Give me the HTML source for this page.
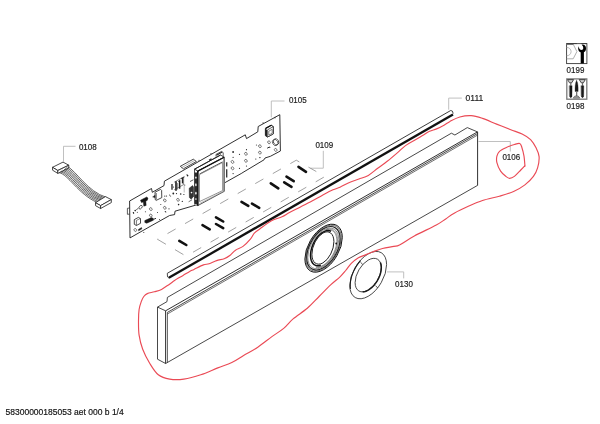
<!DOCTYPE html>
<html><head><meta charset="utf-8"><title>Exploded view</title>
<style>
html,body{margin:0;padding:0;background:#fff;}
body{width:600px;height:424px;overflow:hidden;}
svg{display:block;font-family:"Liberation Sans",sans-serif;will-change:transform;}
</style></head>
<body>
<svg width="600" height="424" viewBox="0 0 600 424">
<rect width="600" height="424" fill="#fff"/>
<polyline points="63.5,161.7 63.5,146.3 75.5,146.3" fill="none" stroke="#b9b9b9" stroke-width="0.9" stroke-linejoin="round"/>
<polyline points="271.3,117.4 271.3,101 284.5,101" fill="none" stroke="#b9b9b9" stroke-width="0.9" stroke-linejoin="round"/>
<polyline points="310.5,168.2 323.3,168.2 323.3,150.8" fill="none" stroke="#b9b9b9" stroke-width="0.9" stroke-linejoin="round"/>
<polyline points="448.7,109.7 448.7,98.1 461.8,98.1" fill="none" stroke="#b9b9b9" stroke-width="0.9" stroke-linejoin="round"/>
<polyline points="478.5,141.5 510.3,141.5 510.3,151.5" fill="none" stroke="#b9b9b9" stroke-width="0.9" stroke-linejoin="round"/>
<polyline points="387,271.9 403.7,271.9 403.7,278.4" fill="none" stroke="#b9b9b9" stroke-width="0.9" stroke-linejoin="round"/>
<g opacity="0.995">
<text x="78.9" y="149.6" font-size="8.6" fill="#222" stroke="#222" stroke-width="0.18" textLength="17.79" lengthAdjust="spacingAndGlyphs">0108</text>
<text x="288.9" y="103.4" font-size="8.6" fill="#222" stroke="#222" stroke-width="0.18" textLength="17.79" lengthAdjust="spacingAndGlyphs">0105</text>
<text x="315.4" y="148" font-size="8.6" fill="#222" stroke="#222" stroke-width="0.18" textLength="17.79" lengthAdjust="spacingAndGlyphs">0109</text>
<text x="465.6" y="101.2" font-size="8.6" fill="#222" stroke="#222" stroke-width="0.18" textLength="17.79" lengthAdjust="spacingAndGlyphs">0111</text>
<text x="502.4" y="160" font-size="8.6" fill="#222" stroke="#222" stroke-width="0.18" textLength="17.79" lengthAdjust="spacingAndGlyphs">0106</text>
<text x="395.1" y="287.4" font-size="8.6" fill="#222" stroke="#222" stroke-width="0.18" textLength="17.79" lengthAdjust="spacingAndGlyphs">0130</text>
<text x="566.6" y="72.5" font-size="8.6" fill="#222" stroke="#222" stroke-width="0.18" textLength="17.79" lengthAdjust="spacingAndGlyphs">0199</text>
<text x="566.6" y="108.5" font-size="8.6" fill="#222" stroke="#222" stroke-width="0.18" textLength="17.79" lengthAdjust="spacingAndGlyphs">0198</text>
<text x="5.5" y="414.8" font-size="9.2" fill="#111" stroke="#111" stroke-width="0.18" textLength="118.2" lengthAdjust="spacingAndGlyphs">58300000185053 aet 000 b 1/4</text>
</g>
<rect x="566.6" y="43.6" width="20.3" height="20" fill="#fff" stroke="#3a3a3a" stroke-width="0.9"/>
<path d="M567,44.2 L573.2,44.2 L576.9,51.6 L573.2,58.8 L567,58.8" fill="none" stroke="#9a9a9a" stroke-width="0.8" stroke-linejoin="round" stroke-linecap="round"/>
<path d="M567,47.4 A4.1,4.2 0 0 1 567,55.8" fill="none" stroke="#aaa" stroke-width="0.8" stroke-linejoin="round" stroke-linecap="round"/>
<line x1="567" y1="44" x2="573.4" y2="44" stroke="#555" stroke-width="1.3"/>
<rect x="580.7" y="51.5" width="3.2" height="11.9" fill="#000"/>
<circle cx="582.1" cy="48.4" r="3.9" fill="#000"/>
<g transform="rotate(-118 581.4 48)"><rect x="581.4" y="46.1" width="6.5" height="3.8" fill="#fff"/></g>
<circle cx="581.4" cy="48" r="1.9" fill="#fff"/>
<line x1="566.6" y1="43.6" x2="586.9" y2="43.6" stroke="#3a3a3a" stroke-width="0.9"/>
<rect x="566.8" y="78.9" width="20" height="20.3" fill="#fff" stroke="#7a7a7a" stroke-width="1.3"/>
<path d="M568,79.6 L573.6,79.6 L571.7,82.8 L569.9,82.8 Z" fill="#ccc" stroke="#222" stroke-width="0.8" stroke-linejoin="round" stroke-linecap="round"/>
<rect x="570.2" y="82.8" width="1.2" height="3" fill="#666"/>
<path d="M569.5,85.7 L572.1,85.7 L572,96.2 L570.8,98 L569.6,96.2 Z" fill="#1a1a1a" stroke="#111" stroke-width="0.3" stroke-linejoin="round" stroke-linecap="round"/>
<path d="M579.7,79.6 L585.3,79.6 L583.4,82.8 L581.6,82.8 Z" fill="#ccc" stroke="#222" stroke-width="0.8" stroke-linejoin="round" stroke-linecap="round"/>
<rect x="581.9" y="82.8" width="1.2" height="3" fill="#666"/>
<path d="M581.2,85.7 L583.8,85.7 L583.7,96.2 L582.5,98 L581.3,96.2 Z" fill="#1a1a1a" stroke="#111" stroke-width="0.3" stroke-linejoin="round" stroke-linecap="round"/>
<path d="M576.6,80.4 C575.2,82.6 574.9,87 575.1,91.5 L578.1,91.5 C578.3,87 578,82.6 576.6,80.4 Z" fill="#1a1a1a" stroke="#111" stroke-width="0.3" stroke-linejoin="round" stroke-linecap="round"/>
<rect x="576" y="91.5" width="1.3" height="4.5" fill="#777"/>
<path d="M573.6,98.1 L579.8,98.1 L578.2,96 L575.2,96 Z" fill="#aaa" stroke="#444" stroke-width="0.6" stroke-linejoin="round" stroke-linecap="round"/>
<polygon points="52.5,167.3 63,162.1 68.8,165.2 57.8,170.5" fill="#fff" stroke="#1a1a1a" stroke-width="0.8" stroke-linejoin="round"/>
<polygon points="52.5,167.3 52.6,170.2 57.8,173.4 57.8,170.5" fill="#fff" stroke="#1a1a1a" stroke-width="0.8" stroke-linejoin="round"/>
<polygon points="57.8,170.5 68.8,165.2 68.8,168 57.8,173.4" fill="#fff" stroke="#1a1a1a" stroke-width="0.8" stroke-linejoin="round"/>
<path d="M59.5,172.8 C68,174 78,194 96.6,202.2" fill="none" stroke="#333" stroke-width="0.75" stroke-linejoin="round" stroke-linecap="round"/>
<path d="M60.71,171.94 C69.14,173.57 79.43,193.71 97.94,201.49" fill="none" stroke="#333" stroke-width="0.75" stroke-linejoin="round" stroke-linecap="round"/>
<path d="M61.93,171.09 C70.29,173.14 80.86,193.43 99.29,200.77" fill="none" stroke="#333" stroke-width="0.75" stroke-linejoin="round" stroke-linecap="round"/>
<path d="M63.14,170.23 C71.43,172.71 82.29,193.14 100.63,200.06" fill="none" stroke="#333" stroke-width="0.75" stroke-linejoin="round" stroke-linecap="round"/>
<path d="M64.36,169.37 C72.57,172.29 83.71,192.86 101.97,199.34" fill="none" stroke="#333" stroke-width="0.75" stroke-linejoin="round" stroke-linecap="round"/>
<path d="M65.57,168.51 C73.71,171.86 85.14,192.57 103.31,198.63" fill="none" stroke="#333" stroke-width="0.75" stroke-linejoin="round" stroke-linecap="round"/>
<path d="M66.79,167.66 C74.86,171.43 86.57,192.29 104.66,197.91" fill="none" stroke="#333" stroke-width="0.75" stroke-linejoin="round" stroke-linecap="round"/>
<path d="M68,166.8 C76,171 88,192 106,197.2" fill="none" stroke="#333" stroke-width="0.75" stroke-linejoin="round" stroke-linecap="round"/>
<polygon points="95.5,202.7 105.4,196.6 111.3,199.6 100.6,205.6" fill="#fff" stroke="#1a1a1a" stroke-width="0.8" stroke-linejoin="round"/>
<polygon points="95.5,202.7 95.6,205.7 100.6,208.5 100.6,205.6" fill="#fff" stroke="#1a1a1a" stroke-width="0.8" stroke-linejoin="round"/>
<polygon points="100.6,205.6 111.3,199.6 111.3,202.6 100.6,208.5" fill="#fff" stroke="#1a1a1a" stroke-width="0.8" stroke-linejoin="round"/>
<polygon points="129.6,201 151.5,188.5 152.3,192.3 164,185.6 164.4,181.2 245.3,134.8 246.5,138.6 257.8,131.8 258.2,126.5 279.8,114.7 280.4,151 270.4,156.3 265,158 264,159.8 243,172.4 241.8,173.2 224.3,183 197.8,204.5 175,211.2 174.6,214.6 169.6,215.5 150,226.5 130,237.9" fill="#fff" stroke="#1a1a1a" stroke-width="0.9" stroke-linejoin="round"/>
<polyline points="129.6,208 127.4,208.3 127.4,214.3 129.6,214.1" fill="none" stroke="#1a1a1a" stroke-width="0.7" stroke-linejoin="round"/>
<polygon points="180.3,166.3 193.3,159.2 196.4,161.5 183.4,168.8" fill="#fff" stroke="#1a1a1a" stroke-width="0.8" stroke-linejoin="round"/>
<line x1="181" y1="168" x2="194" y2="160.8" stroke="#666" stroke-width="0.5"/>
<polygon points="140.5,200.2 146.8,197 148,198.2 147.2,200.4 141.5,202.6" fill="#111" stroke="#1a1a1a" stroke-width="0.5" stroke-linejoin="round"/>
<polygon points="143.2,201.6 145.8,200.6 146.2,205.4 143.8,206.2" fill="#1a1a1a" stroke="#1a1a1a" stroke-width="0.4" stroke-linejoin="round"/>
<ellipse cx="140.6" cy="207.2" rx="1.3" ry="2.1" transform="rotate(40 140.6 207.2)" fill="#fff" stroke="#222" stroke-width="0.7"/>
<line x1="138.3" y1="208.3" x2="136.2" y2="209.8" stroke="#1a1a1a" stroke-width="0.7"/>
<circle cx="135.2" cy="210.6" r="0.8" fill="#222"/>
<circle cx="133.4" cy="212.6" r="0.7" fill="#222"/>
<polygon points="155,192.2 160.6,189.4 161.6,190.4 161.8,197.6 156.2,200.4 155.2,199.6" fill="#fff" stroke="#1a1a1a" stroke-width="0.8" stroke-linejoin="round"/>
<line x1="156.3" y1="193" x2="156.3" y2="199.6" stroke="#1a1a1a" stroke-width="0.6"/>
<polygon points="152.6,196.9 155,195.3 155,197.6" fill="#222" stroke="#1a1a1a" stroke-width="0.4" stroke-linejoin="round"/>
<polygon points="144.8,220.6 151.5,217.6 153.4,218.6 153.4,220.2 146.7,223.2 144.8,222.4" fill="#1a1a1a" stroke="#1a1a1a" stroke-width="0.5" stroke-linejoin="round"/>
<line x1="153.5" y1="219.4" x2="156" y2="218.3" stroke="#333" stroke-width="1"/>
<polygon points="134.3,219.6 138.4,217.4 140.5,218.6 140.5,223.3 136.4,225.5 134.3,224.3" fill="#fff" stroke="#1a1a1a" stroke-width="0.8" stroke-linejoin="round"/>
<line x1="136.4" y1="220.4" x2="136.4" y2="225.3" stroke="#1a1a1a" stroke-width="0.6"/>
<line x1="136.4" y1="220.4" x2="140.4" y2="218.5" stroke="#1a1a1a" stroke-width="0.5"/>
<polygon points="138.3,229.6 141.5,227.6 141.9,228.8 138.7,230.8" fill="#222" stroke="#1a1a1a" stroke-width="0.5" stroke-linejoin="round"/>
<ellipse cx="150.8" cy="209.1" rx="1.25" ry="1.5" transform="rotate(-35 150.8 209.1)" fill="none" stroke="#333" stroke-width="0.6"/>
<ellipse cx="150.8" cy="215.5" rx="1.25" ry="1.5" transform="rotate(-35 150.8 215.5)" fill="none" stroke="#333" stroke-width="0.6"/>
<ellipse cx="135.3" cy="230" rx="1.25" ry="1.5" transform="rotate(-35 135.3 230)" fill="none" stroke="#333" stroke-width="0.6"/>
<ellipse cx="232.5" cy="161.9" rx="1.25" ry="1.5" transform="rotate(-35 232.5 161.9)" fill="none" stroke="#333" stroke-width="0.6"/>
<ellipse cx="232.5" cy="168.3" rx="1.25" ry="1.5" transform="rotate(-35 232.5 168.3)" fill="none" stroke="#333" stroke-width="0.6"/>
<ellipse cx="245.9" cy="153.8" rx="1.25" ry="1.5" transform="rotate(-35 245.9 153.8)" fill="none" stroke="#333" stroke-width="0.6"/>
<ellipse cx="245.9" cy="160.8" rx="1.25" ry="1.5" transform="rotate(-35 245.9 160.8)" fill="none" stroke="#333" stroke-width="0.6"/>
<ellipse cx="259.9" cy="146.2" rx="1.25" ry="1.5" transform="rotate(-35 259.9 146.2)" fill="none" stroke="#333" stroke-width="0.6"/>
<ellipse cx="259.9" cy="152.6" rx="1.25" ry="1.5" transform="rotate(-35 259.9 152.6)" fill="none" stroke="#333" stroke-width="0.6"/>
<ellipse cx="275.7" cy="149.9" rx="1.25" ry="1.5" transform="rotate(-35 275.7 149.9)" fill="none" stroke="#333" stroke-width="0.6"/>
<ellipse cx="269" cy="142.3" rx="1.25" ry="1.5" transform="rotate(-35 269 142.3)" fill="none" stroke="#333" stroke-width="0.6"/>
<circle cx="233.1" cy="152" r="0.9" fill="#222"/>
<circle cx="239.5" cy="154.3" r="0.6" fill="#222"/>
<circle cx="233.1" cy="157.3" r="0.6" fill="#222"/>
<circle cx="246.5" cy="149.7" r="0.6" fill="#222"/>
<circle cx="246.5" cy="166" r="0.6" fill="#222"/>
<circle cx="239.5" cy="168.3" r="0.6" fill="#222"/>
<circle cx="233.1" cy="173.6" r="0.6" fill="#222"/>
<circle cx="255.8" cy="159" r="0.6" fill="#222"/>
<circle cx="259.9" cy="157.6" r="0.7" fill="#222"/>
<circle cx="256.4" cy="145" r="0.5" fill="#222"/>
<circle cx="269.8" cy="147.3" r="0.6" fill="#222"/>
<circle cx="133.6" cy="213.2" r="0.6" fill="#222"/>
<circle cx="145.4" cy="211.7" r="0.5" fill="#222"/>
<circle cx="157.5" cy="212.5" r="0.5" fill="#222"/>
<circle cx="160.8" cy="204.5" r="0.5" fill="#222"/>
<circle cx="165.8" cy="212" r="0.5" fill="#222"/>
<circle cx="159.5" cy="219.4" r="0.5" fill="#222"/>
<circle cx="137.3" cy="212.2" r="0.5" fill="#222"/>
<circle cx="166.5" cy="196" r="0.6" fill="#222"/>
<circle cx="187" cy="174.8" r="0.6" fill="#222"/>
<circle cx="184.7" cy="185" r="0.6" fill="#222"/>
<circle cx="176.5" cy="193.6" r="0.6" fill="#222"/>
<circle cx="170.6" cy="196" r="0.5" fill="#222"/>
<circle cx="178.8" cy="181.5" r="0.5" fill="#222"/>
<circle cx="143.8" cy="232.6" r="0.5" fill="#222"/>
<circle cx="173.5" cy="187" r="0.6" fill="#222"/>
<circle cx="188" cy="160.8" r="0.4" fill="#222"/>
<circle cx="199" cy="160.3" r="0.5" fill="#222"/>
<circle cx="211" cy="153.5" r="0.5" fill="#222"/>
<line x1="172" y1="184" x2="172" y2="189.8" stroke="#222" stroke-width="1.3"/>
<line x1="176" y1="181.3" x2="176" y2="190.8" stroke="#1a1a1a" stroke-width="1.6"/>
<line x1="179.6" y1="180.2" x2="179.6" y2="188.7" stroke="#1a1a1a" stroke-width="1.5"/>
<line x1="182.5" y1="178" x2="182.5" y2="183.4" stroke="#222" stroke-width="1.3"/>
<line x1="181" y1="178.6" x2="184.5" y2="176.8" stroke="#222" stroke-width="0.9"/>
<polyline points="174.2,182.2 183.6,177 183.6,184.6 174.2,189.8" fill="none" stroke="#333" stroke-width="0.6" stroke-linejoin="round"/>
<line x1="177.6" y1="183" x2="177.6" y2="189.6" stroke="#444" stroke-width="0.6"/>
<line x1="184.2" y1="185.5" x2="184.2" y2="192.5" stroke="#777" stroke-width="0.5"/>
<circle cx="173.3" cy="193.5" r="0.9" fill="#222"/>
<circle cx="180.7" cy="194" r="0.8" fill="#222"/>
<circle cx="183.9" cy="194.5" r="0.6" fill="#222"/>
<circle cx="164.8" cy="196.1" r="0.6" fill="#222"/>
<circle cx="169.5" cy="195" r="0.5" fill="#222"/>
<circle cx="178.6" cy="204.6" r="0.8" fill="#222"/>
<circle cx="182.3" cy="201.4" r="0.6" fill="#222"/>
<circle cx="169" cy="208.8" r="0.6" fill="#222"/>
<circle cx="165.3" cy="211.5" r="0.6" fill="#222"/>
<circle cx="187.6" cy="175.4" r="0.6" fill="#222"/>
<ellipse cx="164.8" cy="200.4" rx="1.2" ry="1.5" transform="rotate(-35 164.8 200.4)" fill="none" stroke="#333" stroke-width="0.6"/>
<ellipse cx="164.8" cy="207.8" rx="1.2" ry="1.5" transform="rotate(-35 164.8 207.8)" fill="none" stroke="#333" stroke-width="0.6"/>
<ellipse cx="178" cy="199.8" rx="1.2" ry="1.5" transform="rotate(-35 178 199.8)" fill="none" stroke="#333" stroke-width="0.6"/>
<polygon points="265.4,128.6 271.2,125.2 273.3,126.6 273.3,133.8 267.6,137 265.4,135.6" fill="#fff" stroke="#111" stroke-width="1" stroke-linejoin="round"/>
<polygon points="267.6,129.8 273.3,126.6 273.3,133.8 267.6,137" fill="#fff" stroke="#222" stroke-width="0.7" stroke-linejoin="round"/>
<line x1="266.4" y1="129.4" x2="266.4" y2="136.2" stroke="#222" stroke-width="1.2"/>
<line x1="265.6" y1="128.4" x2="271.4" y2="125.2" stroke="#111" stroke-width="1.2"/>
<polygon points="268.8,131.2 272.2,129.3 272.2,133.2 268.8,135.1" fill="#fff" stroke="#333" stroke-width="0.6" stroke-linejoin="round"/>
<line x1="263.1" y1="122.2" x2="263.1" y2="123.8" stroke="#333" stroke-width="0.8"/>
<line x1="275" y1="116.8" x2="275" y2="118.4" stroke="#333" stroke-width="0.8"/>
<ellipse cx="276" cy="141.8" rx="2.6" ry="3.2" transform="rotate(-30 276 141.8)" fill="#fff" stroke="#222" stroke-width="0.7"/>
<ellipse cx="275.2" cy="142.6" rx="2.6" ry="3.2" transform="rotate(-30 275.2 142.6)" fill="none" stroke="#222" stroke-width="0.6"/>
<line x1="267.2" y1="148.2" x2="269.5" y2="147" stroke="#222" stroke-width="1"/>
<line x1="226.7" y1="162.3" x2="226.7" y2="166.4" stroke="#333" stroke-width="1.3"/>
<line x1="226.7" y1="169.3" x2="226.7" y2="177.5" stroke="#333" stroke-width="1.3"/>
<polygon points="194.5,169.2 220.6,155 224.2,157.2 197.8,171.1" fill="#fff" stroke="#222" stroke-width="0.8" stroke-linejoin="round"/>
<polygon points="194.5,169.2 197.8,171.1 197.8,205.6 194.6,203.6" fill="#fff" stroke="#222" stroke-width="0.8" stroke-linejoin="round"/>
<polygon points="197.8,171.1 224.2,157.2 224.2,191.4 197.8,205.6" fill="#fff" stroke="#444" stroke-width="0.9" stroke-linejoin="round"/>
<line x1="197.8" y1="171.1" x2="197.8" y2="205.6" stroke="#111" stroke-width="1.5"/>
<line x1="224.2" y1="157.4" x2="224.2" y2="191.3" stroke="#777" stroke-width="1.5"/>
<line x1="197.8" y1="171.1" x2="224.2" y2="157.2" stroke="#111" stroke-width="1.2"/>
<line x1="199.5" y1="174" x2="222.6" y2="161.9" stroke="#333" stroke-width="0.9"/>
<polygon points="199.5,174.6 222.6,162.5 222.6,190.6 199.5,201.6" fill="#fff" stroke="#777" stroke-width="0.8" stroke-linejoin="round"/>
<line x1="199.5" y1="203.6" x2="223.6" y2="191.2" stroke="#888" stroke-width="0.6"/>
<line x1="194.5" y1="169.2" x2="220.6" y2="155" stroke="#222" stroke-width="1"/>
<line x1="209" y1="160.2" x2="211.5" y2="158.8" stroke="#222" stroke-width="1.2"/>
<polyline points="216,156.6 216,154.4 221.6,151.4 223.2,152.6 223.2,156.8" fill="none" stroke="#222" stroke-width="0.7" stroke-linejoin="round"/>
<line x1="216.5" y1="155.2" x2="222.2" y2="152.1" stroke="#222" stroke-width="1.1"/>
<line x1="195.9" y1="172.5" x2="195.9" y2="205" stroke="#2a2a2a" stroke-width="2.6"/>
<ellipse cx="195.9" cy="177.6" rx="0.7" ry="1.2" fill="#fff" stroke="none"/>
<ellipse cx="195.9" cy="184.8" rx="0.7" ry="1.56" fill="#fff" stroke="none"/>
<ellipse cx="195.9" cy="193.2" rx="0.7" ry="1.44" fill="#fff" stroke="none"/>
<ellipse cx="195.9" cy="199" rx="0.7" ry="0.84" fill="#fff" stroke="none"/>
<ellipse cx="195.9" cy="204.6" rx="0.7" ry="0.72" fill="#fff" stroke="none"/>
<polygon points="189.2,188.2 192.6,185.6 193.6,187.2 193.6,196.2 191.2,199.2 189.4,197.6" fill="#333" stroke="#222" stroke-width="0.5" stroke-linejoin="round"/>
<circle cx="191.5" cy="192.6" r="0.8" fill="#fff"/>
<line x1="188.6" y1="201.8" x2="192" y2="199.8" stroke="#333" stroke-width="0.7"/>
<line x1="190" y1="181.5" x2="193.4" y2="179.8" stroke="#333" stroke-width="0.8"/>
<circle cx="187.6" cy="175.8" r="0.7" fill="#222"/>
<line x1="157.5" y1="239.3" x2="296.3" y2="160.2" stroke="#7a7a7a" stroke-width="0.7" stroke-dasharray="9.4 10.8" stroke-dashoffset="-11.5"/>
<line x1="186.1" y1="256.2" x2="325" y2="176.5" stroke="#7a7a7a" stroke-width="0.7" stroke-dasharray="9.4 10.8" stroke-dashoffset="-8"/>
<line x1="157.5" y1="239.3" x2="186.1" y2="256.2" stroke="#7a7a7a" stroke-width="0.7" stroke-dasharray="9.8 10.5"/>
<line x1="296.3" y1="160.2" x2="325" y2="176.5" stroke="#7a7a7a" stroke-width="0.7" stroke-dasharray="3.5 10.5 9 20"/>
<line x1="179.3" y1="240.8" x2="186.3" y2="245" stroke="#111" stroke-width="2.6" stroke-linecap="round"/>
<line x1="202.5" y1="225.2" x2="209.7" y2="229.3" stroke="#111" stroke-width="2.6" stroke-linecap="round"/>
<line x1="216" y1="217.3" x2="223.2" y2="221.5" stroke="#111" stroke-width="2.6" stroke-linecap="round"/>
<line x1="216" y1="224" x2="223.2" y2="228.2" stroke="#111" stroke-width="2.6" stroke-linecap="round"/>
<line x1="241.5" y1="201.8" x2="248.3" y2="205.8" stroke="#111" stroke-width="2.6" stroke-linecap="round"/>
<line x1="252" y1="203.7" x2="259.2" y2="207.8" stroke="#111" stroke-width="2.6" stroke-linecap="round"/>
<line x1="270.8" y1="183.3" x2="278.3" y2="188.3" stroke="#111" stroke-width="2.6" stroke-linecap="round"/>
<line x1="284.2" y1="182.3" x2="291.5" y2="186.8" stroke="#111" stroke-width="2.6" stroke-linecap="round"/>
<line x1="286.5" y1="176.7" x2="293.7" y2="181.2" stroke="#111" stroke-width="2.6" stroke-linecap="round"/>
<line x1="298.5" y1="166.8" x2="306" y2="171.8" stroke="#111" stroke-width="2.6" stroke-linecap="round"/>
<line x1="167.3" y1="273.3" x2="450.7" y2="110.5" stroke="#1a1a1a" stroke-width="0.85"/>
<line x1="168.8" y1="277.8" x2="453" y2="114.5" stroke="#111" stroke-width="2.3"/>
<polyline points="167.3,273.3 167.5,276.8 169,278.2" fill="none" stroke="#1a1a1a" stroke-width="0.8" stroke-linejoin="round"/>
<polyline points="450.7,110.5 452.4,111.1 453.2,113.6" fill="none" stroke="#1a1a1a" stroke-width="0.8" stroke-linejoin="round"/>
<polyline points="157.5,307.1 167,301.6 167.4,297.4 451.4,133.2 454.9,135 467.3,127.6 477.5,131.9" fill="none" stroke="#1a1a1a" stroke-width="0.8" stroke-linejoin="round"/>
<line x1="157.5" y1="307.1" x2="157.5" y2="359.2" stroke="#1a1a1a" stroke-width="0.8"/>
<line x1="157.5" y1="307.1" x2="165.6" y2="310.8" stroke="#1a1a1a" stroke-width="0.8"/>
<line x1="157.5" y1="359.2" x2="165.6" y2="363.5" stroke="#1a1a1a" stroke-width="0.8"/>
<line x1="165.6" y1="310.8" x2="165.6" y2="363.5" stroke="#1a1a1a" stroke-width="0.9"/>
<line x1="167.4" y1="312.4" x2="167.4" y2="362.4" stroke="#1a1a1a" stroke-width="0.7"/>
<line x1="165.6" y1="310.8" x2="477.5" y2="131.9" stroke="#1a1a1a" stroke-width="0.9"/>
<line x1="167.4" y1="312.4" x2="477.5" y2="133.5" stroke="#1a1a1a" stroke-width="0.8"/>
<line x1="167.4" y1="314" x2="477.5" y2="135.1" stroke="#333" stroke-width="0.7"/>
<line x1="165.6" y1="363.5" x2="477.7" y2="185.3" stroke="#1a1a1a" stroke-width="0.8"/>
<line x1="477.6" y1="131.9" x2="477.6" y2="185.3" stroke="#1a1a1a" stroke-width="0.9"/>
<ellipse cx="0" cy="0" rx="1" ry="1" transform="matrix(18.7,-10.72,0,21.5,323.6,248.2)" fill="none" stroke="#111" stroke-width="1" vector-effect="non-scaling-stroke"/>
<ellipse cx="0" cy="0" rx="1" ry="1" transform="matrix(17.8,-10.2,0,20.6,323.5,248.2)" fill="none" stroke="#333" stroke-width="0.7" vector-effect="non-scaling-stroke"/>
<ellipse cx="0" cy="0" rx="1" ry="1" transform="matrix(16.7,-9.57,0,19.5,323.4,248.3)" fill="none" stroke="#222" stroke-width="1.2" vector-effect="non-scaling-stroke"/>
<ellipse cx="0" cy="0" rx="1" ry="1" transform="matrix(15.5,-8.88,0,18.3,323.3,248.4)" fill="none" stroke="#444" stroke-width="0.6" vector-effect="non-scaling-stroke"/>
<polyline points="325.62,229.72 327.66,229.17 329.61,229.03 331.42,229.3 333.05,229.97 334.47,231.03 335.66,232.45 336.58,234.22 337.21,236.28 337.54,238.6 337.58,241.12 337.3,243.8 336.73,246.58 335.86,249.39 334.73,252.19 333.35,254.9 331.76,257.48 329.98,259.86 328.06,262 326.03,263.86 323.94,265.39 321.84,266.56 319.76,267.34 317.75,267.73 315.85,267.71" fill="none" stroke="#555" stroke-width="0.6" stroke-linejoin="round"/>
<polyline points="325.48,230.39 327.41,229.89 329.25,229.77 330.96,230.05 332.5,230.72 333.85,231.76 334.96,233.15 335.83,234.86 336.43,236.86 336.75,239.11 336.78,241.55 336.52,244.13 335.97,246.8 335.16,249.51 334.09,252.2 332.79,254.8 331.28,257.27 329.6,259.55 327.79,261.6 325.87,263.36 323.9,264.81 321.91,265.92 319.94,266.65 318.04,267 316.25,266.96" fill="none" stroke="#555" stroke-width="0.6" stroke-linejoin="round"/>
<polyline points="320.83,265.3 318.98,265.75 317.23,265.79 315.61,265.42 314.16,264.65 312.92,263.5 311.91,261.99 311.16,260.16 310.69,258.05 310.5,255.71 310.61,253.2 311,250.57 311.67,247.89 312.61,245.21 313.78,242.6 315.18,240.13 316.75,237.84 318.47,235.79 320.29,234.03 322.18,232.6 324.09,231.54 325.97,230.86 327.78,230.58 329.48,230.72 331.03,231.26" fill="none" stroke="#111" stroke-width="1.5" stroke-linejoin="round"/>
<ellipse cx="0" cy="0" rx="1" ry="1" transform="matrix(11,-6.3,0,14.9,322.9,248)" fill="none" stroke="#222" stroke-width="1" vector-effect="non-scaling-stroke"/>
<circle cx="336.2" cy="243.5" r="0.9" fill="#111"/>
<ellipse cx="0" cy="0" rx="1" ry="1" transform="matrix(18.4,-10.54,0,21.2,368.2,275.1)" fill="none" stroke="#1a1a1a" stroke-width="0.8" vector-effect="non-scaling-stroke"/>
<ellipse cx="0" cy="0" rx="1" ry="1" transform="matrix(13.1,-7.51,0,15,368.2,275.1)" fill="none" stroke="#1a1a1a" stroke-width="0.8" vector-effect="non-scaling-stroke"/>
<polyline points="350.47,288.87 350.33,287.83 350.24,286.75 350.2,285.64 350.22,284.5 350.29,283.33 350.41,282.13 350.59,280.91 350.81,279.68 351.09,278.43 351.42,277.17 351.8,275.91 352.23,274.64 352.71,273.38 353.23,272.12 353.8,270.87 354.41,269.63 355.06,268.41 355.75,267.21 356.48,266.03 357.24,264.88 358.04,263.76 358.86,262.67 359.71,261.62 360.59,260.61" fill="none" stroke="#1a1a1a" stroke-width="1.1" stroke-linejoin="round"/>
<polyline points="380.35,262.52 380.77,263.69 381.08,264.97 381.25,266.35 381.3,267.81 381.21,269.35 381,270.95 380.66,272.58 380.2,274.25 379.62,275.92 378.92,277.58 378.12,279.22 377.22,280.81 376.23,282.35 375.16,283.82 374.02,285.2 372.82,286.49 371.58,287.65 370.31,288.7 369.01,289.61 367.7,290.37 366.41,290.99 365.12,291.44 363.87,291.74 362.66,291.87" fill="none" stroke="#1a1a1a" stroke-width="1.5" stroke-linejoin="round"/>
<line x1="360.8" y1="262.3" x2="362.5" y2="264.5" stroke="#1a1a1a" stroke-width="0.7"/>
<line x1="375.5" y1="285.6" x2="377.8" y2="288" stroke="#1a1a1a" stroke-width="0.7"/>
<path d="M444,125.2 C446.23,123.95 447.37,122.77 450,121.4 C452.63,120.03 456.28,117.97 459.8,117 C463.32,116.03 467.32,115.37 471.1,115.6 C474.88,115.83 478.25,116.98 482.5,118.4 C486.75,119.82 491.88,122.22 496.6,124.1 C501.32,125.98 506.55,128.05 510.8,129.7 C515.05,131.35 518.8,132.35 522.1,134 C525.4,135.65 528.25,137.25 530.6,139.6 C532.95,141.95 534.78,145.27 536.2,148.1 C537.62,150.93 538.87,153.3 539.1,156.6 C539.33,159.9 538.55,164.6 537.6,167.9 C536.65,171.2 535.52,173.57 533.4,176.4 C531.28,179.23 528.2,182.38 524.9,184.9 C521.6,187.42 517.85,189.62 513.6,191.5 C509.35,193.38 504.58,194.7 499.4,196.2 C494.22,197.7 487.68,198.82 482.5,200.5 C477.32,202.18 473.02,204.18 468.3,206.3 C463.58,208.42 457.97,211.1 454.2,213.2 C450.43,215.3 448.68,216.93 445.7,218.9 C442.72,220.87 441.53,222.15 436.3,225 C431.07,227.85 420.43,232.67 414.3,236 C408.17,239.33 402.92,243.27 399.5,245 C396.08,246.73 396.63,245.82 393.8,246.4 C390.97,246.98 385.8,247.67 382.5,248.5 C379.2,249.33 376.83,250.33 374,251.4 C371.17,252.47 368.1,253.85 365.5,254.9 C362.9,255.95 360.77,256.28 358.4,257.7 C356.03,259.12 353.42,261.27 351.3,263.4 C349.18,265.53 347.58,268.25 345.7,270.5 C343.82,272.75 342.47,274.53 340,276.9 C337.53,279.27 334.38,281.43 330.9,284.7 C327.42,287.97 323.03,292.57 319.1,296.5 C315.17,300.43 311.63,304.57 307.3,308.3 C302.97,312.03 297.03,315.55 293.1,318.9 C289.17,322.25 287.23,325.45 283.7,328.4 C280.17,331.35 276.22,333.47 271.9,336.6 C267.58,339.73 262.52,344.05 257.8,347.2 C253.08,350.35 247.93,352.93 243.6,355.5 C239.27,358.07 236.1,360.53 231.8,362.6 C227.5,364.67 222.97,365.87 217.8,367.9 C212.63,369.93 206.47,372.93 200.8,374.8 C195.13,376.67 188.98,378.38 183.8,379.1 C178.62,379.82 173.95,379.82 169.7,379.1 C165.45,378.38 161.62,377.4 158.3,374.8 C154.98,372.2 152.4,367.75 149.8,363.5 C147.2,359.25 144.48,354.02 142.7,349.3 C140.92,344.58 139.8,339.92 139.1,335.2 C138.4,330.48 138.5,325.28 138.5,321 C138.5,316.72 138.62,312.8 139.1,309.5 C139.58,306.2 140.62,303.37 141.4,301.2 C142.18,299.03 142.82,297.77 143.8,296.5 C144.78,295.23 145.53,294.38 147.3,293.6 C149.07,292.82 152.03,292.5 154.4,291.8 C156.77,291.1 159.03,290.63 161.5,289.4 C163.97,288.17 167.08,285.83 169.2,284.4 C171.32,282.97 172.67,281.85 174.2,280.8 C175.73,279.75 176.87,279.03 178.4,278.1 C179.93,277.17 181.52,276.32 183.4,275.2 C185.28,274.08 187.93,272.37 189.7,271.4 C191.47,270.43 191.72,270.48 194,269.4 C196.28,268.32 200.88,265.83 203.4,264.9 C205.92,263.97 206.9,264.52 209.1,263.8 C211.3,263.08 214.08,261.45 216.6,260.6 C219.12,259.75 222,259.55 224.2,258.7 C226.4,257.85 227.92,256.92 229.8,255.5 C231.68,254.08 233.3,251.72 235.5,250.2 C237.7,248.68 240.48,248.28 243,246.4 C245.52,244.52 248.72,241.1 250.6,238.9 C252.48,236.7 252.73,234.88 254.3,233.2 C255.87,231.52 257.13,230.87 260,228.8 C262.87,226.73 267.83,222.8 271.5,220.8 C275.17,218.8 279,218.18 282,216.8 C285,215.42 286.5,214.1 289.5,212.5 C292.5,210.9 296.25,209.12 300,207.2 C303.75,205.28 308.25,203 312,201 C315.75,199 319,197.07 322.5,195.2 C326,193.33 330.08,191.13 333,189.8 C335.92,188.47 337.27,188.42 340,187.2 C342.73,185.98 346.25,183.87 349.4,182.5 C352.55,181.13 355.75,180.18 358.9,179 C362.05,177.82 365.17,177.18 368.3,175.4 C371.43,173.62 374.55,170.65 377.7,168.3 C380.85,165.95 383.88,163.92 387.2,161.3 C390.52,158.68 394.55,155.22 397.6,152.6 C400.65,149.98 402.53,147.73 405.5,145.6 C408.47,143.47 412.57,141.47 415.4,139.8 C418.23,138.13 420.13,137.02 422.5,135.6 C424.87,134.18 427.25,132.42 429.6,131.3 C431.95,130.18 434.2,129.92 436.6,128.9 C439,127.88 441.77,126.45 444,125.2Z" fill="none" stroke="#ea4a55" stroke-width="1.15" stroke-linejoin="round" stroke-linecap="round"/>
<path d="M525,166.3 C524.83,164.62 524.53,159.38 524,156.2 C523.47,153.02 522.52,149.32 521.8,147.2 C521.08,145.08 520.93,143.95 519.7,143.5 C518.47,143.05 516.7,143.8 514.4,144.5 C512.1,145.2 508.38,146.55 505.9,147.7 C503.42,148.85 501,149.98 499.5,151.4 C498,152.82 497.33,154.33 496.9,156.2 C496.47,158.07 496.28,160.12 496.9,162.6 C497.52,165.08 499.1,168.8 500.6,171.1 C502.1,173.4 504.4,175.2 505.9,176.4 C507.4,177.6 508.18,178.3 509.6,178.3 C511.02,178.3 512.53,177.78 514.4,176.4 C516.27,175.02 519.03,171.82 520.8,170 C522.57,168.18 524.3,166.25 525,165.5" fill="none" stroke="#ea4a55" stroke-width="1.15" stroke-linejoin="round" stroke-linecap="round"/>
</svg>
</body></html>
